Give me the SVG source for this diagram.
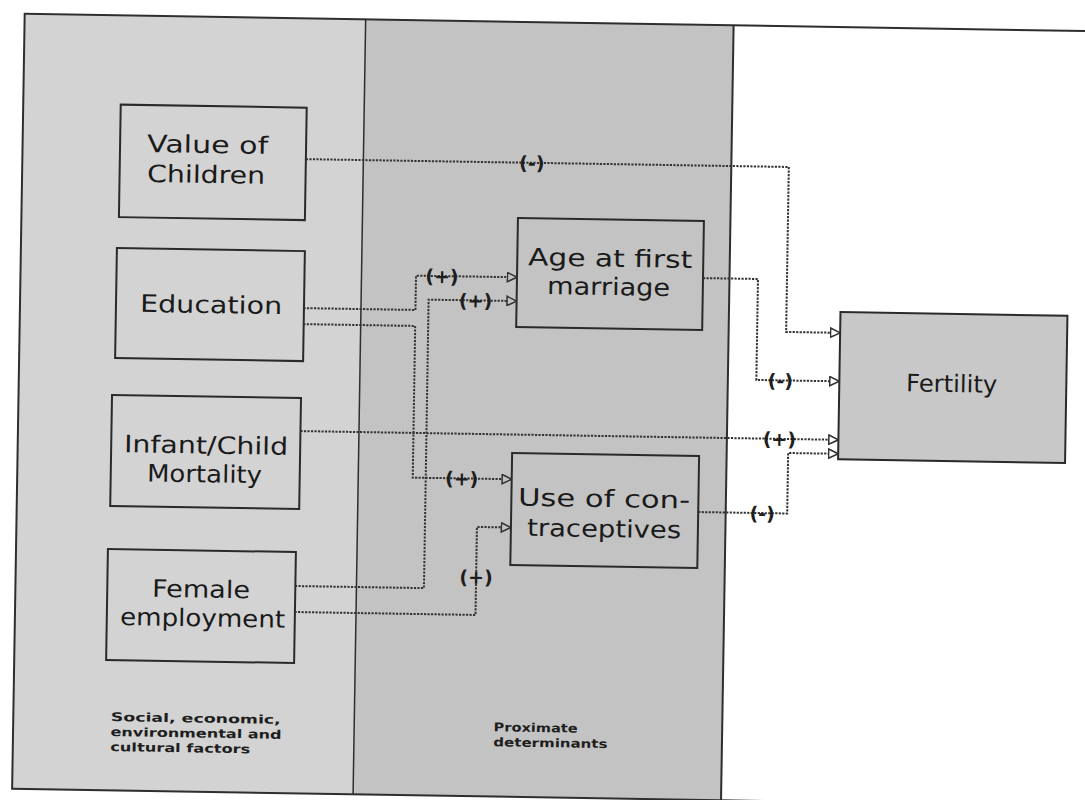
<svg xmlns="http://www.w3.org/2000/svg" width="1085" height="800" viewBox="0 0 1085 800">
<defs>
<style>
.box{stroke:#2a2a2a;stroke-width:2}
.p1{fill:#d3d3d3}
.p2{fill:#c3c3c3}
.fer{fill:#c8c8c8}
.t{font-family:"DejaVu Sans","Liberation Sans",sans-serif;font-size:24px;fill:#1a1a1a;text-anchor:middle}
.small{font-family:"DejaVu Sans","Liberation Sans",sans-serif;font-size:12px;font-weight:bold;fill:#1e1e1e}
.c{fill:none;stroke:#333;stroke-width:2;stroke-dasharray:2.2 1.3}
.lab{font-family:"DejaVu Sans","Liberation Sans",sans-serif;font-size:19px;font-weight:bold;fill:#1e1e1e;text-anchor:middle}
</style>
<marker id="aw" markerUnits="userSpaceOnUse" markerWidth="11" markerHeight="11" viewBox="0 0 10 10" refX="9.5" refY="5" orient="auto">
<path d="M0.8,0.8 L9.5,5 L0.8,9.2 Z" fill="#ffffff" stroke="#333" stroke-width="1.4"/>
</marker>
<marker id="ag" markerUnits="userSpaceOnUse" markerWidth="11" markerHeight="11" viewBox="0 0 10 10" refX="9.5" refY="5" orient="auto">
<path d="M0.8,0.8 L9.5,5 L0.8,9.2 Z" fill="#c3c3c3" stroke="#333" stroke-width="1.4"/>
</marker>
</defs>
<rect width="1085" height="800" fill="#ffffff"/>
<g transform="rotate(0.93 542 400)">
<g id="panels">
<rect x="18.5" y="22.3" width="341" height="775" class="p1"/>
<rect x="359.5" y="22.3" width="368" height="775" class="p2"/>
<rect x="18.5" y="22.3" width="1100" height="775" fill="none" stroke="#2e2e2e" stroke-width="2"/>
<line x1="359.5" y1="22.3" x2="359.5" y2="797.3" stroke="#2e2e2e" stroke-width="1.5"/>
<line x1="727.5" y1="22.3" x2="727.5" y2="797.3" stroke="#2e2e2e" stroke-width="2"/>
<text class="small" x="116" y="728" textLength="170" lengthAdjust="spacingAndGlyphs">Social, economic,</text>
<text class="small" x="116" y="743" textLength="171" lengthAdjust="spacingAndGlyphs">environmental and</text>
<text class="small" x="116" y="758" textLength="140" lengthAdjust="spacingAndGlyphs">cultural factors</text>
<text class="small" x="499" y="732" textLength="84" lengthAdjust="spacingAndGlyphs">Proximate</text>
<text class="small" x="499" y="747" textLength="114" lengthAdjust="spacingAndGlyphs">determinants</text>
</g>
<g id="node-value">
<rect x="116" y="111.5" width="186" height="112.5" class="box p1"/>
<text class="t" x="203.5" y="158.4" textLength="121" lengthAdjust="spacingAndGlyphs">Value of</text>
<text class="t" x="202.5" y="188.4" textLength="118" lengthAdjust="spacingAndGlyphs">Children</text>
</g>
<g id="node-education">
<rect x="114.5" y="255" width="188" height="110" class="box p1"/>
<text class="t" x="209.6" y="318.4" textLength="142" lengthAdjust="spacingAndGlyphs">Education</text>
</g>
<g id="node-mortality">
<rect x="112" y="402" width="189" height="111" class="box p1"/>
<text class="t" x="206.9" y="459" textLength="164" lengthAdjust="spacingAndGlyphs">Infant/Child</text>
<text class="t" x="205.8" y="487.8" textLength="115" lengthAdjust="spacingAndGlyphs">Mortality</text>
</g>
<g id="node-employment">
<rect x="110.4" y="556" width="188" height="111" class="box p1"/>
<text class="t" x="204.2" y="603" textLength="98" lengthAdjust="spacingAndGlyphs">Female</text>
<text class="t" x="206.2" y="631.8" textLength="165" lengthAdjust="spacingAndGlyphs">employment</text>
</g>
<g id="node-marriage">
<rect x="515" y="218.4" width="186" height="109" class="box p2"/>
<text class="t" x="607.9" y="265.5" textLength="164" lengthAdjust="spacingAndGlyphs">Age at first</text>
<text class="t" x="606.8" y="294" textLength="123" lengthAdjust="spacingAndGlyphs">marriage</text>
</g>
<g id="node-contraceptives">
<rect x="513" y="453.5" width="187" height="112" class="box p2"/>
<text class="t" x="605.7" y="506" textLength="172" lengthAdjust="spacingAndGlyphs">Use of con-</text>
<text class="t" x="606.2" y="536" textLength="154" lengthAdjust="spacingAndGlyphs">traceptives</text>
</g>
<g id="node-fertility">
<rect x="839" y="307.2" width="227" height="147.3" class="box fer"/>
<text class="t" x="951.4" y="385.4" textLength="91" lengthAdjust="spacingAndGlyphs">Fertility</text>
</g>
<g id="connectors">
<path class="c" d="M302,163 H785 V328 H839" marker-end="url(#aw)"/>
<path class="c" d="M701,275.5 H756 V376.5 H839" marker-end="url(#aw)"/>
<path class="c" d="M301,435 H839" marker-end="url(#aw)"/>
<path class="c" d="M700,509.5 H789 V449 H839" marker-end="url(#aw)"/>
<path class="c" d="M302,312 H414 V277.7 H515" marker-end="url(#ag)"/>
<path class="c" d="M302,328 H414 V479.7 H513" marker-end="url(#ag)"/>
<path class="c" d="M298,590 H427 V301.5 H515" marker-end="url(#ag)"/>
<path class="c" d="M298,616 H479 V528 H513" marker-end="url(#ag)"/>
<text class="lab" x="528" y="170">(-)</text>
<text class="lab" x="780" y="383.5">(-)</text>
<text class="lab" x="780" y="442">(+)</text>
<text class="lab" x="764" y="516.5">(-)</text>
<text class="lab" x="440" y="284.7">(+)</text>
<text class="lab" x="463" y="486.7">(+)</text>
<text class="lab" x="474" y="308.5">(+)</text>
<text class="lab" x="479" y="585">(+)</text>
</g>
</g>
</svg>
